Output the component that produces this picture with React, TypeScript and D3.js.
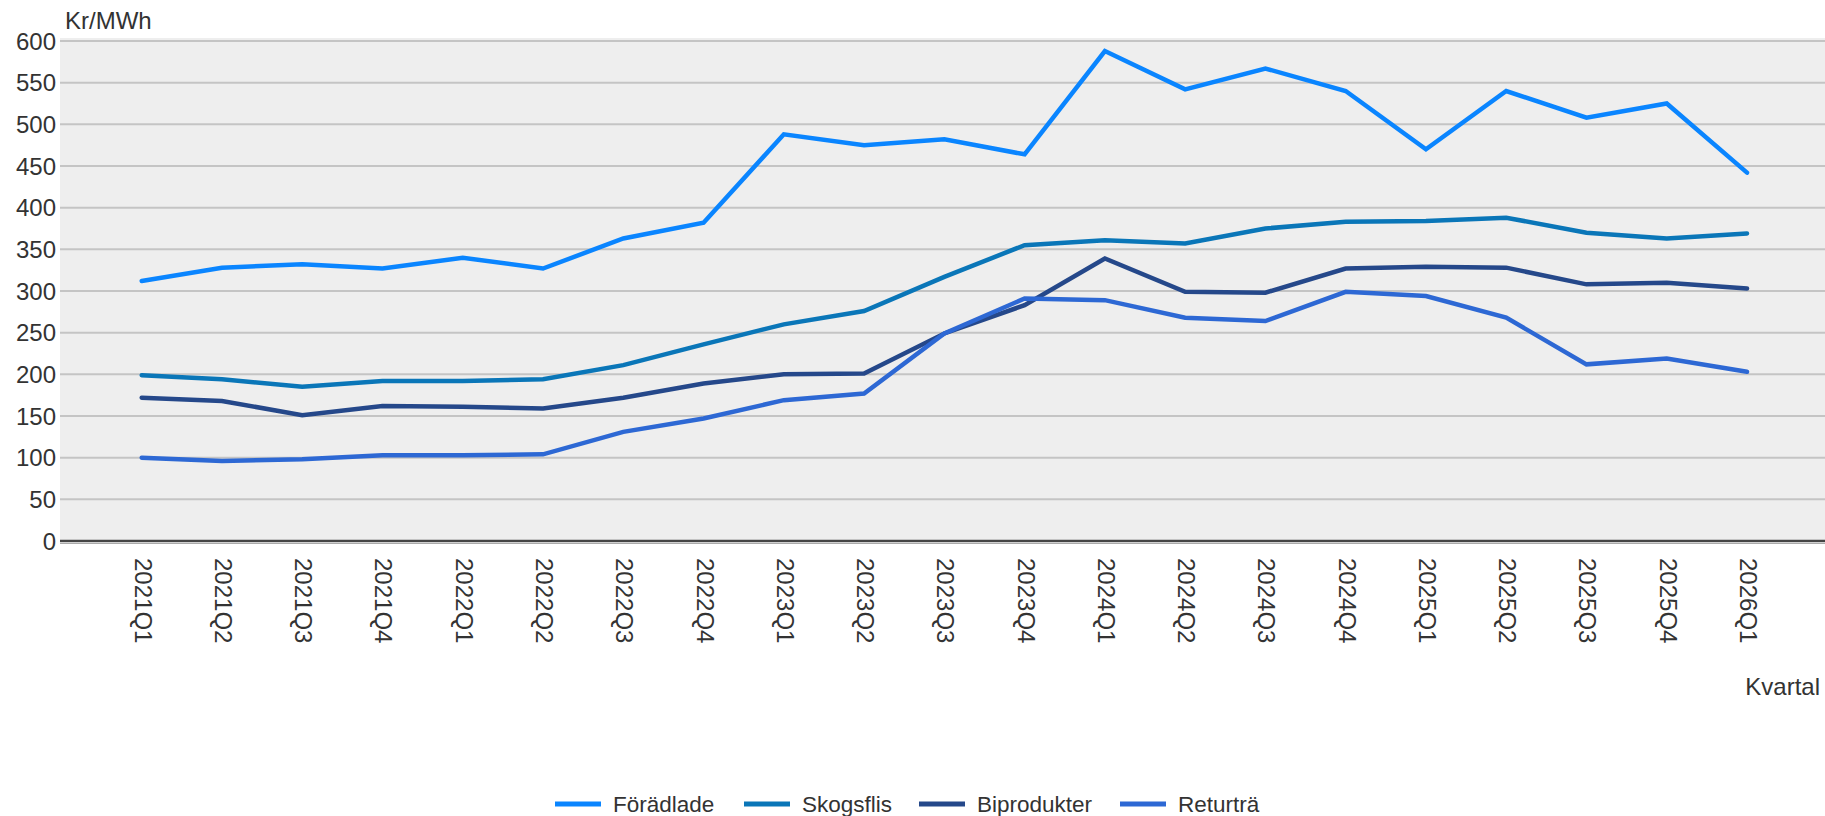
import React from "react";
import * as d3 from "d3";

const categories = [
  "2021Q1", "2021Q2", "2021Q3", "2021Q4",
  "2022Q1", "2022Q2", "2022Q3", "2022Q4",
  "2023Q1", "2023Q2", "2023Q3", "2023Q4",
  "2024Q1", "2024Q2", "2024Q3", "2024Q4",
  "2025Q1", "2025Q2", "2025Q3", "2025Q4",
  "2026Q1",
];

const foradlade = [312, 328, 332, 327, 340, 327, 363, 382, 488, 475, 482, 464, 588, 542, 567, 540, 470, 540, 508, 525, 442];
const skogsflis = [199, 194, 185, 192, 192, 194, 211, 236, 260, 276, 317, 355, 361, 357, 375, 383, 384, 388, 370, 363, 369];
const biprodukter = [172, 168, 151, 162, 161, 159, 172, 189, 200, 201, 249, 283, 339, 299, 298, 327, 329, 328, 308, 310, 303];
const returtra = [100, 96, 98, 103, 103, 104, 131, 147, 169, 177, 249, 291, 289, 268, 264, 299, 294, 268, 212, 219, 203];

const yTicks = [0, 50, 100, 150, 200, 250, 300, 350, 400, 450, 500, 550, 600];

const seriesNames = ["Förädlade", "Skogsflis", "Biprodukter", "Returträ"];
const seriesValues = [foradlade, skogsflis, biprodukter, returtra];
const seriesColors = ["#0a85ff", "#0a76b8", "#25488a", "#2d68d4"];

const W = 1825;
const H = 816;
const plotLeft = 60;
const plotRight = 1825;
const plotTop = 38;
const plotBottom = 541;
const legendX = [555, 744, 919, 1120];

export default function App() {
  const x = d3.scaleLinear().domain([0, categories.length - 1]).range([141.7, 1747]);
  const y = d3.scaleLinear().domain([0, 600]).range([plotBottom, 41]);
  const line = d3
    .line<number>()
    .x((_, i) => x(i))
    .y((v) => y(v));

  const font = "'Liberation Sans', Arial, sans-serif";

  return (
    <svg
      width={W}
      height={H}
      style={{ position: "absolute", left: 0, top: 0, background: "#fff" }}
      fontFamily={font}
    >
      <rect x={plotLeft} y={plotTop} width={plotRight - plotLeft} height={plotBottom - plotTop} fill="#eeeeee" />
      {yTicks.map((t) => (
        <g key={t}>
          {t > 0 && (
            <line x1={plotLeft} x2={plotRight} y1={y(t)} y2={y(t)} stroke="#c4c4c4" strokeWidth={2} />
          )}
          <text x={56} y={y(t)} textAnchor="end" dominantBaseline="central" fontSize={24} fill="#333">
            {t}
          </text>
        </g>
      ))}
      <line x1={plotLeft} x2={plotRight} y1={plotBottom} y2={plotBottom} stroke="#444" strokeWidth={2.5} />
      <line x1={plotLeft} x2={plotRight} y1={plotBottom + 2.5} y2={plotBottom + 2.5} stroke="#aaa" strokeWidth={1} />

      {categories.map((c, i) => (
        <text
          key={c}
          transform={`translate(${x(i) + 1.5},${558}) rotate(90)`}
          textAnchor="start"
          dominantBaseline="central"
          fontSize={24}
          fill="#333"
        >
          {c}
        </text>
      ))}

      {seriesValues.map((vals, si) => (
        <path
          key={seriesNames[si]}
          d={line(vals) || ""}
          fill="none"
          stroke={seriesColors[si]}
          strokeWidth={4.5}
          strokeLinejoin="miter"
          strokeLinecap="round"
        />
      ))}

      <text x={65} y={29} fontSize={24} fill="#333">Kr/MWh</text>
      <text x={1820} y={695} fontSize={24} fill="#333" textAnchor="end">Kvartal</text>

      {seriesNames.map((n, i) => (
        <g key={n} transform={`translate(${legendX[i]},804)`}>
          <line x1={0} x2={46} y1={0} y2={0} stroke={seriesColors[i]} strokeWidth={5} />
          <text x={58} dominantBaseline="central" fontSize={22.5} fill="#333">
            {n}
          </text>
        </g>
      ))}
    </svg>
  );
}
